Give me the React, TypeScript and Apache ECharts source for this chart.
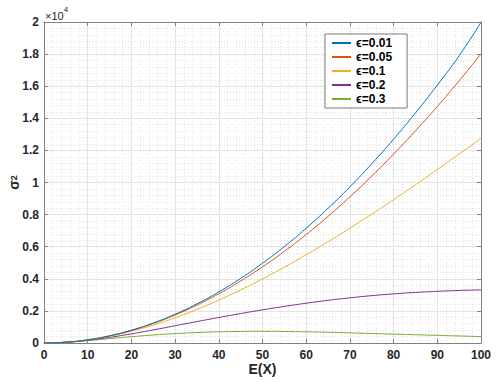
import React, { useEffect, useRef } from "react";
import * as echarts from "echarts";

const xValues = [0, 5, 10, 15, 20, 25, 30, 35, 40, 45, 50, 55, 60, 65, 70, 75, 80, 85, 90, 95, 100];
const seriesNames = ["ϵ=0.01", "ϵ=0.05", "ϵ=0.1", "ϵ=0.2", "ϵ=0.3"];
const eps001 = [0, 50, 199, 449, 798, 1246, 1792, 2438, 3183, 4027, 4970, 6011, 7152, 8391, 9729, 11166, 12701, 14335, 16067, 17898, 19980];
const eps005 = [0, 50, 198, 443, 783, 1218, 1744, 2362, 3068, 3863, 4744, 5711, 6760, 7892, 9105, 10398, 11768, 13216, 14739, 16337, 18010];
const eps01 = [0, 49, 191, 421, 731, 1117, 1573, 2093, 2673, 3307, 3993, 4724, 5496, 6307, 7152, 8028, 8930, 9858, 10805, 11771, 12760];
const eps02 = [0, 46, 170, 350, 570, 815, 1075, 1335, 1590, 1835, 2065, 2280, 2480, 2660, 2815, 2950, 3060, 3150, 3220, 3275, 3310];
const eps03 = [0, 45, 146, 270, 392, 500, 587, 653, 696, 719, 726, 717, 697, 668, 633, 593, 553, 515, 477, 438, 400];
const allSeries = [eps001, eps005, eps01, eps02, eps03];
const colors = ["#0072BD", "#D95319", "#EDB120", "#7E2F8E", "#77AC30"];

const FONT = "'Liberation Sans', Arial, Helvetica, sans-serif";
const AXIS_COLOR = "#808080";
const LABEL_COLOR = "#262626";

export default function App() {
  const ref = useRef<HTMLDivElement>(null);
  useEffect(() => {
    if (!ref.current) return;
    const chart = echarts.init(ref.current, undefined, { renderer: "svg" });
    const tickCommon = { show: true, inside: true, length: 4, lineStyle: { color: AXIS_COLOR } };
    const lineCommon = { show: true, onZero: false, lineStyle: { color: AXIS_COLOR, width: 1 } };
    const option: any = {
      animation: false,
      backgroundColor: "#ffffff",
      grid: { left: 44, right: 17, top: 22, bottom: 39, containLabel: false, outerBoundsMode: "none" },
      legend: {
        orient: "vertical",
        left: 325,
        top: 34,
        padding: [3, 15, 3, 6],
        itemWidth: 19,
        itemHeight: 12,
        itemGap: 2,
        backgroundColor: "#ffffff",
        borderColor: "#7a7a7a",
        borderWidth: 1,
        borderRadius: 0,
        itemStyle: { opacity: 0 },
        lineStyle: { opacity: 1 },
        textStyle: { fontFamily: FONT, fontSize: 12, fontWeight: "bold", color: "#000", lineHeight: 12 },
        data: seriesNames,
      },
      graphic: [
        {
          type: "text",
          left: 45,
          top: 5,
          style: {
            text: "{a|×10}{b|4}",
            rich: {
              a: { fontFamily: FONT, fontSize: 11, fill: LABEL_COLOR, lineHeight: 16, verticalAlign: "bottom" },
              b: { fontFamily: FONT, fontSize: 8, fill: LABEL_COLOR, lineHeight: 16, verticalAlign: "top" },
            },
          },
        },
      ],
      xAxis: [
        {
          type: "value",
          min: 0,
          max: 100,
          interval: 10,
          name: "E(X)",
          nameLocation: "middle",
          nameGap: 19,
          nameMoveOverlap: false,
          nameTextStyle: { fontFamily: FONT, fontSize: 14, fontWeight: "bold", color: LABEL_COLOR },
          axisLine: lineCommon,
          axisTick: tickCommon,
          axisLabel: { fontFamily: FONT, fontSize: 12, fontWeight: "bold", color: LABEL_COLOR, margin: 6 },
          splitLine: { show: true, lineStyle: { color: "#e4e4e4", width: 1 } },
          minorTick: { show: false, splitNumber: 5 },
          minorSplitLine: { show: true, lineStyle: { color: "#e2e2e2", width: 1, type: [1, 2] } },
        },
        {
          type: "value",
          position: "top",
          min: 0,
          max: 100,
          interval: 10,
          axisLine: lineCommon,
          axisTick: tickCommon,
          axisLabel: { show: false },
          splitLine: { show: false },
        },
      ],
      yAxis: [
        {
          type: "value",
          min: 0,
          max: 20000,
          interval: 2000,
          name: "{s|σ}{p|2}",
          nameLocation: "middle",
          nameRotate: 90,
          nameGap: 23,
          nameMoveOverlap: false,
          nameTextStyle: {
            rich: {
              s: { fontFamily: FONT, fontSize: 14, fontWeight: "bold", color: LABEL_COLOR, lineHeight: 12, verticalAlign: "bottom" },
              p: { fontFamily: FONT, fontSize: 9, fontWeight: "bold", color: LABEL_COLOR, lineHeight: 12, verticalAlign: "top", padding: [0, 0, 4, 0] },
            },
          },
          axisLine: lineCommon,
          axisTick: tickCommon,
          axisLabel: {
            fontFamily: FONT,
            fontSize: 12,
            fontWeight: "bold",
            color: LABEL_COLOR,
            margin: 5,
            formatter: (v: number) => String(Math.round(v / 1000) / 10),
          },
          splitLine: { show: true, lineStyle: { color: "#e4e4e4", width: 1 } },
          minorTick: { show: false, splitNumber: 5 },
          minorSplitLine: { show: true, lineStyle: { color: "#e2e2e2", width: 1, type: [1, 2] } },
        },
        {
          type: "value",
          position: "right",
          min: 0,
          max: 20000,
          interval: 2000,
          axisLine: lineCommon,
          axisTick: tickCommon,
          axisLabel: { show: false },
          splitLine: { show: false },
        },
      ],
      series: allSeries.map((vals, i) => ({
        name: seriesNames[i],
        type: "line",
        xAxisIndex: 0,
        yAxisIndex: 0,
        data: xValues.map((x, j) => [x, vals[j]]),
        smooth: true,
        symbol: "none",
        showSymbol: false,
        color: colors[i],
        lineStyle: { color: colors[i], width: 1 },
        z: 10 - i,
      })),
    };
    chart.setOption(option);
    return () => chart.dispose();
  }, []);
  return <div ref={ref} style={{ position: "absolute", left: 0, top: 0, width: 498, height: 382 }} />;
}
